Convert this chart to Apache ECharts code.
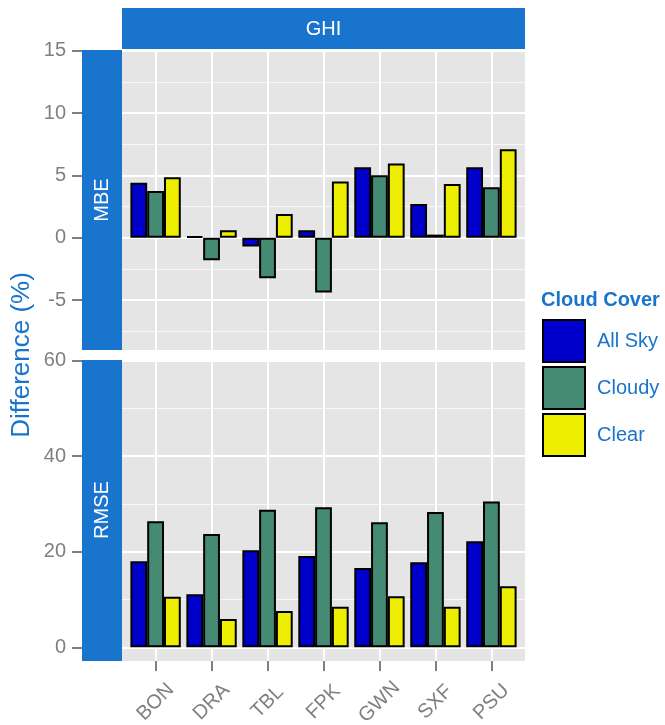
<!DOCTYPE html>
<html><head><meta charset="utf-8">
<script src="https://cdn.jsdelivr.net/npm/echarts@6/dist/echarts.min.js"></script>
<style>html,body{margin:0;padding:0;background:#fff}#c{width:665px;height:725px}</style>
</head><body><div id="c"></div>
<script>
// ---- data ----
const stations = ['BON', 'DRA', 'TBL', 'FPK', 'GWN', 'SXF', 'PSU'];
const coverNames = ['All Sky', 'Cloudy', 'Clear'];
const mbeAllSky = [4.4, 0.1, -0.7, 0.6, 5.65, 2.7, 5.65];
const mbeCloudy = [3.75, -1.8, -3.25, -4.4, 5.0, 0.25, 4.05];
const mbeClear  = [4.85, 0.6, 1.9, 4.5, 5.95, 4.3, 7.1];
const rmseAllSky = [18.0, 11.1, 20.3, 19.1, 16.6, 17.8, 22.2];
const rmseCloudy = [26.4, 23.7, 28.8, 29.3, 26.2, 28.3, 30.5];
const rmseClear  = [10.6, 5.9, 7.6, 8.5, 10.7, 8.5, 12.8];
const mbeTicks = [-5, 0, 5, 10, 15];
const mbeMinor = [-7.5, -2.5, 2.5, 7.5, 12.5];
const rmseTicks = [0, 20, 40, 60];
const rmseMinor = [10, 30, 50];
const facetTitle = 'GHI';
const rowTitles = ['MBE', 'RMSE'];
const yTitle = 'Difference (%)';
const legendTitle = 'Cloud Cover';

// ---- style ----
const FONT = 'Liberation Sans';
const BLUE = '#1874CD';
const GREY = '#7F7F7F';
const colors = ['#0000CD', '#458B74', '#EEEE00'];
const catIdx = stations.map((s, i) => i);

const chart = echarts.init(document.getElementById('c'), null, {renderer: 'canvas'});

const grids = [
  {left: 122, top: 50, width: 403, height: 300, show: true, backgroundColor: '#E5E5E5', borderWidth: 0, outerBoundsMode: 'none', containLabel: false},
  {left: 122, top: 360, width: 403, height: 301, show: true, backgroundColor: '#E5E5E5', borderWidth: 0, outerBoundsMode: 'none', containLabel: false}
];

function xAxis(g, showLabels) {
  return {
    type: 'value', gridIndex: g, min: -0.6, max: 6.6, position: 'bottom',
    axisLine: {show: false, onZero: false},
    axisTick: {show: showLabels, customValues: catIdx, length: 10, lineStyle: {color: GREY, width: 2}},
    axisLabel: {show: showLabels, customValues: catIdx, formatter: v => stations[Math.round(v)] || '',
      rotate: 45, align: 'center', verticalAlign: 'middle', margin: 41,
      color: GREY, fontSize: 20, fontFamily: FONT},
    splitLine: {show: true, lineStyle: {color: '#FFFFFF', width: 2}}
  };
}
function yAxisMain(g, min, max, ticks) {
  return {
    type: 'value', gridIndex: g, min: min, max: max, position: 'left', offset: 40,
    axisLine: {show: false, onZero: false},
    axisTick: {show: true, customValues: ticks, length: 10, lineStyle: {color: GREY, width: 2}},
    axisLabel: {customValues: ticks, margin: 16, color: GREY, fontSize: 20, fontFamily: FONT},
    splitLine: {show: true, lineStyle: {color: '#FFFFFF', width: 2}}
  };
}
function yAxisMinor(g, min, max, ticks) {
  return {
    type: 'value', gridIndex: g, min: min, max: max, position: 'right',
    axisLine: {show: false, onZero: false},
    axisTick: {show: false, customValues: ticks},
    axisLabel: {show: false, customValues: ticks},
    splitLine: {show: true, lineStyle: {color: '#F7F7F7', width: 1}}
  };
}

function bar(name, vals, xi, yi, ci) {
  return {
    type: 'bar', name: name, xAxisIndex: xi, yAxisIndex: yi,
    data: vals.map((v, i) => [i, v]),
    barWidth: '30%', barGap: '0%',
    itemStyle: {color: colors[ci], borderColor: '#000', borderWidth: 2},
    z: 3
  };
}

const option = {
  animation: false,
  backgroundColor: '#FFFFFF',
  grid: grids,
  xAxis: [xAxis(0, false), xAxis(1, true)],
  yAxis: [
    yAxisMain(0, -9.0, 15.05, mbeTicks),
    yAxisMain(1, -2.87, 60.15, rmseTicks),
    yAxisMinor(0, -9.0, 15.05, mbeMinor),
    yAxisMinor(1, -2.87, 60.15, rmseMinor)
  ],
  legend: {
    data: coverNames, orient: 'vertical', left: 542, top: 319, padding: 0,
    itemWidth: 42, itemHeight: 42, itemGap: 3, icon: 'rect',
    itemStyle: {borderColor: '#000', borderWidth: 2},
    textStyle: {color: BLUE, fontSize: 20, fontFamily: FONT, padding: [0, 0, 0, 7]}
  },
  series: [
    bar(coverNames[0], mbeAllSky, 0, 0, 0),
    bar(coverNames[1], mbeCloudy, 0, 0, 1),
    bar(coverNames[2], mbeClear, 0, 0, 2),
    bar(coverNames[0], rmseAllSky, 1, 1, 0),
    bar(coverNames[1], rmseCloudy, 1, 1, 1),
    bar(coverNames[2], rmseClear, 1, 1, 2)
  ],
  graphic: [
    {type: 'rect', shape: {x: 122, y: 8, width: 403, height: 41}, style: {fill: BLUE}, silent: true},
    {type: 'text', x: 323.5, y: 29, style: {text: facetTitle, fill: '#fff', font: '20px "Liberation Sans"', textAlign: 'center', textVerticalAlign: 'middle'}},
    {type: 'rect', shape: {x: 82, y: 50, width: 40, height: 300}, style: {fill: BLUE}, silent: true},
    {type: 'text', x: 102, y: 200, rotation: Math.PI / 2, style: {text: rowTitles[0], fill: '#fff', font: '20px "Liberation Sans"', textAlign: 'center', textVerticalAlign: 'middle'}},
    {type: 'rect', shape: {x: 82, y: 360, width: 40, height: 301}, style: {fill: BLUE}, silent: true},
    {type: 'text', x: 102, y: 510, rotation: Math.PI / 2, style: {text: rowTitles[1], fill: '#fff', font: '20px "Liberation Sans"', textAlign: 'center', textVerticalAlign: 'middle'}},
    {type: 'text', x: 22, y: 355, rotation: Math.PI / 2, style: {text: yTitle, fill: BLUE, font: '26px "Liberation Sans"', textAlign: 'center', textVerticalAlign: 'middle'}},
    {type: 'text', x: 541, y: 300, style: {text: legendTitle, fill: BLUE, font: 'bold 20px "Liberation Sans"', textAlign: 'left', textVerticalAlign: 'middle'}}
  ]
};
chart.setOption(option);
</script>
</body></html>
